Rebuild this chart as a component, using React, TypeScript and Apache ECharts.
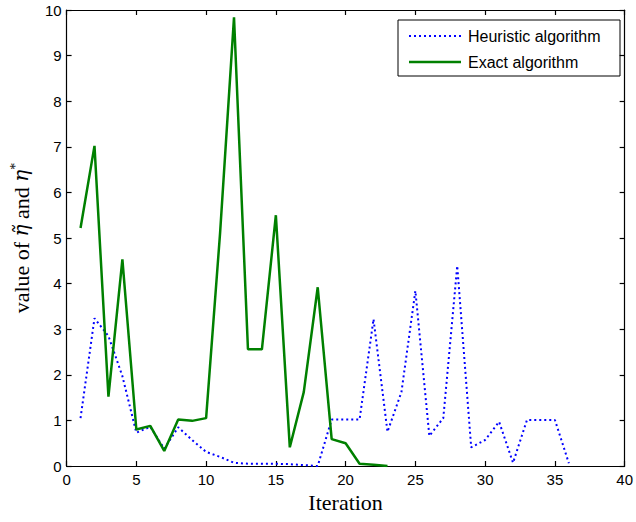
import React, { useEffect, useRef } from "react";
import * as echarts from "echarts";

const iterHeuristic = [1,2,3,4,5,6,7,8,9,10,11,12,13,14,15,16,17,18,19,20,21,22,23,24,25,26,27,28,29,30,31,32,33,34,35,36];
const heuristic = [1.05,3.24,2.85,1.97,0.73,0.86,0.38,0.85,0.57,0.31,0.20,0.07,0.05,0.05,0.05,0.04,0.02,0.0,1.02,1.02,1.02,3.22,0.75,1.62,3.84,0.66,1.05,4.39,0.41,0.57,0.97,0.07,1.01,1.01,1.01,0.06];
const iterExact = [1,2,3,4,5,6,7,8,9,10,11,12,13,14,15,16,17,18,19,20,21,22,23];
const exact = [5.22,7.02,1.52,4.53,0.80,0.88,0.33,1.02,0.99,1.05,5.1,9.84,2.56,2.56,5.50,0.41,1.62,3.92,0.59,0.50,0.05,0.03,0.0];
const seriesNames = ["Heuristic algorithm", "Exact algorithm"];
const blue = "#0000ff";
const green = "#008000";

export default function App() {
  const ref = useRef<HTMLDivElement>(null);
  useEffect(() => {
    if (!ref.current) return;
    const chart = echarts.init(ref.current, null, { renderer: "svg" });
    const sans = "Liberation Sans, Arial, sans-serif";
    const serif = "Liberation Serif, DejaVu Serif, serif";
    const tickFont = { fontFamily: sans, fontSize: 15, color: "#000" };
    const axisLine = { show: true, onZero: false, lineStyle: { color: "#000", width: 1.2 } };
    const axisTick = { show: true, inside: true, length: 5, lineStyle: { color: "#000", width: 1.2 } };
    const legendFont = { fontFamily: sans, fontSize: 16, fill: "#000" };
    chart.setOption({
      animation: false,
      backgroundColor: "#fff",
      grid: { left: 66, right: 10, top: 10, bottom: 56, containLabel: false },
      xAxis: [
        {
          type: "value", min: 0, max: 40, interval: 5, position: "bottom",
          axisLine, axisTick, splitLine: { show: false },
          axisLabel: { ...tickFont, margin: 6 },
          name: "Iteration", nameLocation: "middle", nameGap: 23,
          nameTextStyle: { fontFamily: serif, fontSize: 22, color: "#000" },
        },
        {
          type: "value", min: 0, max: 40, interval: 5, position: "top",
          axisLine, axisTick, splitLine: { show: false }, axisLabel: { show: false },
        },
      ],
      yAxis: [
        {
          type: "value", min: 0, max: 10, interval: 1, position: "left",
          axisLine, axisTick, splitLine: { show: false },
          axisLabel: { ...tickFont, margin: 5 },
          name: "value of {i|η\u0303} and {i|η}{sup|*}", nameLocation: "middle", nameGap: 22,
          nameTextStyle: {
            fontFamily: serif, fontSize: 22, color: "#000", lineHeight: 26,
            rich: {
              i: { fontFamily: "DejaVu Serif, serif", fontSize: 20, fontStyle: "italic", color: "#000", lineHeight: 26 },
              sup: { fontFamily: serif, fontSize: 14, color: "#000", verticalAlign: "top", lineHeight: 26 },
            },
          },
        },
        {
          type: "value", min: 0, max: 10, interval: 1, position: "right",
          axisLine, axisTick, splitLine: { show: false }, axisLabel: { show: false },
        },
      ],
      graphic: [
        {
          type: "group", z: 100,
          children: [
            { type: "rect", shape: { x: 398, y: 20, width: 222, height: 56 }, style: { fill: "#fff", stroke: "#000", lineWidth: 1 } },
            { type: "line", shape: { x1: 409, y1: 36, x2: 461, y2: 36 }, style: { stroke: blue, lineWidth: 2, lineDash: [2, 3] } },
            { type: "text", x: 468, y: 36, style: { text: seriesNames[0], ...legendFont, verticalAlign: "middle" } },
            { type: "line", shape: { x1: 409, y1: 62, x2: 461, y2: 62 }, style: { stroke: green, lineWidth: 2.5 } },
            { type: "text", x: 468, y: 62, style: { text: seriesNames[1], ...legendFont, verticalAlign: "middle" } },
          ],
        },
      ],
      series: [
        {
          name: seriesNames[0], type: "line", xAxisIndex: 0, yAxisIndex: 0,
          data: iterHeuristic.map((x, i) => [x, heuristic[i]]),
          symbol: "none", lineStyle: { color: blue, width: 2, type: [2, 3] },
          itemStyle: { color: blue },
        },
        {
          name: seriesNames[1], type: "line", xAxisIndex: 0, yAxisIndex: 0,
          data: iterExact.map((x, i) => [x, exact[i]]),
          symbol: "none", lineStyle: { color: green, width: 2.5, type: "solid" },
          itemStyle: { color: green },
        },
      ],
    });
    return () => chart.dispose();
  }, []);
  return <div ref={ref} style={{ width: 636, height: 522, position: "absolute", left: 0, top: 0 }} />;
}
